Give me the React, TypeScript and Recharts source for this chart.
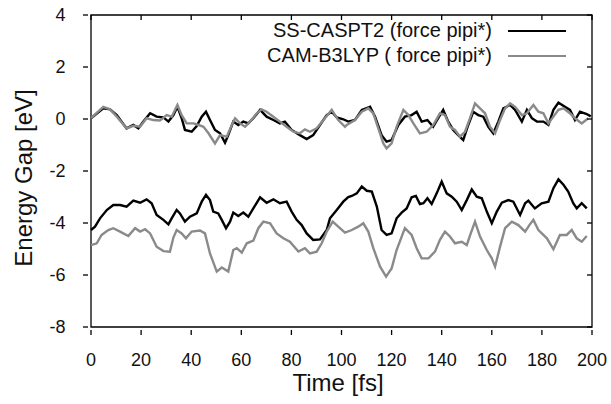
import React from 'react';
import { LineChart, Line, XAxis, YAxis, ReferenceArea } from 'recharts';

// Energy gap traces, as [time (fs), gap (eV)]
const casptUpper: [number, number][] = [
  [0, 0.03], [4.9, 0.41], [7.6, 0.37], [10.3, 0.15], [14.2, -0.36], [16.9, -0.23], [18.9, -0.36],
  [20.9, -0.1], [23.6, 0.22], [26.2, 0.09], [28.9, 0.06], [30.9, -0.1], [32.9, 0.15], [34.5, 0.47],
  [36.2, 0.03], [37.5, -0.42], [40.2, -0.49], [42.2, -0.27], [44.2, 0.09], [45.9, 0.28], [47.5, -0.04],
  [49.5, -0.42], [51.5, -0.55], [53.5, -0.91], [54.8, -0.62], [56.8, -0.1], [58.8, -0.23], [60.8, -0.1],
  [62.8, -0.17], [64.8, 0.03], [67.5, 0.35], [70.1, 0.09], [72.8, -0.04], [75.4, -0.17], [77.4, -0.1],
  [80.1, -0.42], [83.4, -0.62], [86.1, -0.77], [88.7, -0.62], [91.4, -0.23], [94.1, 0.15], [96.1, 0.28],
  [98.1, 0.06], [100.7, -0.01], [102.7, -0.1], [105.4, -0.04], [108.1, 0.35], [111.4, 0.47], [113.4, 0.09],
  [116, -0.62], [118, -0.87], [120, -0.81], [122.7, -0.23], [125.3, 0.09], [128, 0.15], [130, 0.28],
  [132, -0.1], [134.3, -0.04], [136.6, -0.3], [138.6, 0.03], [140.6, 0.35], [142.6, -0.1], [144.6, -0.42],
  [146.6, -0.62], [148.6, -0.81], [150.6, -0.23], [152.6, 0.28], [154.6, 0.15], [156.6, 0.09], [158.6, -0.3],
  [160.6, -0.55], [162.6, -0.1], [164.6, 0.41], [167.3, 0.54], [169.3, 0.35], [172, -0.1], [174, 0.35],
  [176, 0.03], [178, -0.1], [180.6, -0.1], [182.6, -0.23], [184.6, 0.35], [186.6, 0.63], [189.2, 0.47],
  [191.2, 0.35], [193.2, -0.04], [195.2, 0.28], [197.9, 0.19], [199.5, 0.1],
];

const camUpper: [number, number][] = [
  [0, 0.03], [4.9, 0.47], [7.6, 0.37], [10.3, 0.09], [14.2, -0.36], [16.9, -0.26], [19.6, -0.3],
  [22.2, 0.03], [24.9, -0.04], [27.5, -0.06], [30.2, 0.15], [32.2, 0.09], [34.5, 0.54], [36.2, 0.15],
  [38.2, -0.17], [40.9, -0.17], [42.9, -0.23], [44.9, -0.3], [46.9, -0.55], [49.5, -0.94], [51.5, -0.62],
  [54.2, -0.68], [56.2, -0.23], [57.5, 0.03], [59.5, -0.17], [61.5, -0.3], [63.5, -0.1], [66.2, 0.22],
  [68.1, 0.37], [70.1, 0.28], [72.8, 0.09], [75.4, -0.1], [78.1, -0.3], [80.8, -0.49], [83.4, -0.55],
  [85.4, -0.4], [87.4, -0.49], [90.1, -0.36], [92.8, -0.04], [96.1, 0.35], [98.7, -0.04], [101.4, -0.3],
  [102.1, -0.23], [105.4, -0.04], [108.1, 0.28], [110.7, 0.41], [112.7, 0.22], [114.7, -0.36], [116.7, -0.94],
  [118, -1.13], [120, -0.94], [122, -0.3], [124.7, 0.35], [126.7, 0.15], [128.7, -0.17], [131.3, -0.55],
  [134, -0.49], [136.6, -0.23], [139.3, 0.22], [141.3, 0.15], [143.3, -0.3], [145.3, -0.42], [147.3, -0.68],
  [149.3, -0.49], [151.3, 0.03], [153.3, 0.6], [155.3, 0.41], [157.3, 0.22], [159.3, -0.3], [161.3, -0.55],
  [163.3, -0.04], [165.3, 0.41], [167.3, 0.6], [169.3, 0.47], [172, 0.15], [174, 0.22], [176.6, 0.54],
  [178.6, 0.28], [180.6, 0.22], [182.6, -0.17], [184.6, 0.09], [186.6, 0.35], [188.6, 0.41], [191.2, 0.22],
  [193.2, 0.03], [195.9, -0.17], [198.5, 0.03],
];

const casptLower: [number, number][] = [
  [0, -4.27], [1.6, -4.14], [3.6, -3.82], [6.3, -3.5], [8.9, -3.31], [11.6, -3.31], [14.2, -3.37],
  [16.9, -3.14], [19.6, -3.22], [22.2, -3.09], [24.2, -3.24], [26.2, -3.69], [28.9, -3.88], [30.9, -4.05],
  [32.2, -3.82], [34.2, -3.5], [35.5, -3.63], [37.5, -3.95], [39.5, -3.76], [42.2, -3.63], [44.2, -3.18],
  [45.9, -2.92], [47.5, -3.12], [48.8, -3.56], [50.8, -3.63], [52.2, -3.88], [53.9, -4.2], [55.5, -3.95],
  [56.8, -3.6], [58.8, -3.73], [60.8, -3.6], [62.8, -3.76], [64.8, -3.44], [67.5, -3.01], [70.1, -3.22],
  [72.8, -3.09], [75.4, -3.24], [78.1, -3.18], [80.1, -3.56], [82.1, -3.88], [84.1, -4.08], [86.1, -4.4],
  [88.7, -4.65], [91.4, -4.63], [94.1, -4.27], [95.4, -3.82], [98.1, -3.5], [100.7, -3.18], [102.7, -3.0],
  [104.1, -2.96], [106.1, -2.86], [108.1, -2.6], [110.1, -2.76], [112.1, -2.79], [114.1, -3.37], [116, -4.27],
  [118, -4.46], [120, -4.4], [122, -3.82], [124, -3.6], [126, -3.44], [128, -3.01], [129.7, -2.96],
  [131.3, -3.27], [132.7, -3.24], [134.3, -3.05], [136, -3.27], [138, -2.86], [140, -2.41], [142, -2.86],
  [144, -2.99], [146, -3.18], [148, -3.5], [150, -3.12], [152, -2.71], [154, -2.99], [156, -3.05],
  [158, -3.56], [160, -4.01], [162, -3.56], [164, -3.22], [166.6, -3.12], [168.6, -3.18], [171.3, -3.69],
  [173.3, -3.24], [174.6, -3.14], [177.2, -3.44], [179.9, -3.24], [182.6, -3.18], [184.6, -2.66], [186.6, -2.32],
  [188.6, -2.53], [190.5, -2.79], [192.5, -3.24], [193.9, -3.44], [195.9, -3.24], [197.9, -3.44],
];

const camLower: [number, number][] = [
  [0, -4.85], [2.3, -4.78], [4.2, -4.46], [6.9, -4.27], [8.9, -4.2], [11.6, -4.33], [14.9, -4.5],
  [17.6, -4.2], [19.6, -4.33], [21.6, -4.24], [23.6, -4.4], [26.2, -4.91], [28.9, -5.08], [31.5, -5.1],
  [32.9, -4.56], [34.2, -4.27], [36.2, -4.4], [37.9, -4.59], [40.2, -4.33], [43.5, -4.29], [45.5, -4.4],
  [47.5, -5.17], [50.2, -5.87], [52.2, -5.71], [54.8, -5.87], [56.8, -5.04], [58.2, -4.97], [60.2, -5.14],
  [62.2, -4.78], [64.8, -4.68], [66.8, -4.2], [68.8, -3.95], [71.5, -4.01], [74.1, -4.4], [76.8, -4.59],
  [79.4, -4.72], [82.8, -5.1], [85.4, -4.97], [87.4, -5.17], [90.1, -5.1], [92.1, -4.78], [94.1, -4.33],
  [96.5, -3.95], [98.7, -4.14], [101.4, -4.37], [104.1, -4.27], [106.7, -4.14], [108.7, -4.01], [110.7, -4.33],
  [112.7, -4.97], [115.4, -5.68], [117.8, -6.06], [120, -5.75], [122, -5.04], [125.3, -4.2], [128, -4.46],
  [130, -4.97], [132, -5.36], [134.7, -5.36], [137.3, -5.1], [139.3, -4.65], [141.3, -4.33], [143.3, -4.52],
  [145.3, -4.78], [148, -4.72], [150, -4.85], [151.7, -4.37], [153.3, -3.95], [155.3, -4.52], [158, -5.04],
  [160, -5.36], [161.3, -5.68], [163.3, -4.91], [165.3, -4.2], [168, -3.95], [170.6, -4.08], [173.3, -4.33],
  [175, -4.08], [176.6, -3.88], [178.6, -4.27], [182, -4.59], [184.6, -5.01], [187.2, -4.46], [189.9, -4.46],
  [191.9, -4.27], [193.9, -4.59], [195.9, -4.72], [197.9, -4.5],
];

const timeTicks = [0, 20, 40, 60, 80, 100, 120, 140, 160, 180, 200];
const gapTicks = [-8, -6, -4, -2, 0, 2, 4];

const legendItems = [
  { label: 'SS-CASPT2 (force pipi*)', color: '#000000' },
  { label: 'CAM-B3LYP ( force pipi*)', color: '#8a8a8a' },
];

const FONT = '"Liberation Sans", Arial, Helvetica, sans-serif';
const W = 611;
const H = 404;
const M = { top: 15, right: 19, left: 0, bottom: 0 };
const PLOT_TOP = M.top;
const PLOT_RIGHT = W - M.right;
const TICK_LEN = 5;
const FRAME = '#000000';

const toPoints = (arr: [number, number][]) => arr.map(([t, v]) => ({ t, v }));

// gnuplot style: tick marks point inward and are mirrored on the opposite border
const TimeTick = (props: any) => {
  const { x, y, payload } = props;
  return (
    <g>
      <line x1={x} y1={y} x2={x} y2={y - TICK_LEN} stroke={FRAME} strokeWidth={1.3} />
      <line x1={x} y1={PLOT_TOP} x2={x} y2={PLOT_TOP + TICK_LEN} stroke={FRAME} strokeWidth={1.3} />
      <text x={x} y={y + 31} textAnchor="middle" fontSize={18} fontFamily={FONT} fill="#111">
        {payload.value}
      </text>
    </g>
  );
};

const GapTick = (props: any) => {
  const { x, y, payload } = props;
  return (
    <g>
      <line x1={x} y1={y} x2={x + TICK_LEN} y2={y} stroke={FRAME} strokeWidth={1.3} />
      <line x1={PLOT_RIGHT} y1={y} x2={PLOT_RIGHT - TICK_LEN} y2={y} stroke={FRAME} strokeWidth={1.3} />
      <text x={x - 17.5} y={y} dy="0.355em" textAnchor="end" fontSize={18} fontFamily={FONT} fill="#111">
        {payload.value}
      </text>
    </g>
  );
};

const GapLegend = () => (
  <div style={{ position: 'absolute', top: 18, left: 200, width: 366, fontFamily: FONT, fontSize: 20, color: '#111' }}>
    {legendItems.map((item) => (
      <div key={item.label} style={{ display: 'flex', alignItems: 'center', justifyContent: 'flex-end', height: 25 }}>
        <span style={{ whiteSpace: 'pre', lineHeight: '25px' }}>{item.label}</span>
        <div style={{ width: 58, height: 2, marginLeft: 16, background: item.color }} />
      </div>
    ))}
  </div>
);

const App: React.FC = () => {
  return (
    <div style={{ position: 'absolute', left: 0, top: 0, width: W, height: H }}>
      <LineChart width={W} height={H} margin={M}>
        <ReferenceArea x1={0} x2={200} y1={-8} y2={4} fill="none" stroke={FRAME} strokeWidth={1.3} ifOverflow="visible" />
        <XAxis
          dataKey="t"
          type="number"
          domain={[0, 200]}
          ticks={timeTicks}
          height={77}
          tickLine={false}
          axisLine={false}
          tick={<TimeTick />}
        />
        <YAxis
          type="number"
          domain={[-8, 4]}
          ticks={gapTicks}
          width={91}
          tickLine={false}
          axisLine={false}
          tick={<GapTick />}
        />
        <Line data={toPoints(casptUpper)} dataKey="v" type="linear" stroke="#000000" strokeWidth={2.4} dot={false} isAnimationActive={false} />
        <Line data={toPoints(camUpper)} dataKey="v" type="linear" stroke="#8a8a8a" strokeWidth={2.4} dot={false} isAnimationActive={false} />
        <Line data={toPoints(casptLower)} dataKey="v" type="linear" stroke="#000000" strokeWidth={2.4} dot={false} isAnimationActive={false} />
        <Line data={toPoints(camLower)} dataKey="v" type="linear" stroke="#8a8a8a" strokeWidth={2.4} dot={false} isAnimationActive={false} />
      </LineChart>
      <GapLegend />
      <div style={{ position: 'absolute', left: 0, top: 0, width: W, height: H, pointerEvents: 'none' }}>
        <svg width={W} height={H} style={{ position: 'absolute', left: 0, top: 0 }}>
          <text x={338} y={391} textAnchor="middle" fontSize={24} fontFamily={FONT} fill="#111">
            Time [fs]
          </text>
          <text x={32} y={178} transform="rotate(-90 32 178)" textAnchor="middle" fontSize={24} fontFamily={FONT} fill="#111">
            Energy Gap [eV]
          </text>
        </svg>
      </div>
    </div>
  );
};

export default App;
